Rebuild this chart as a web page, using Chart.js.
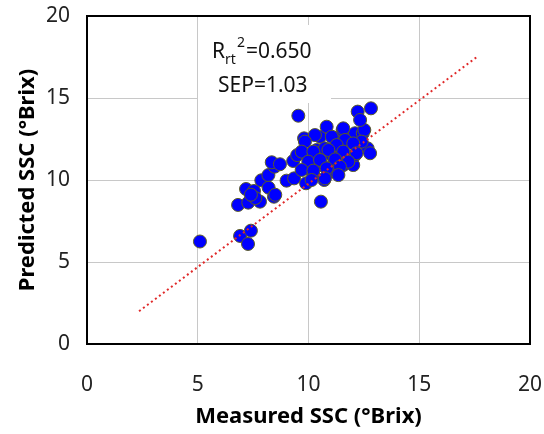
<!DOCTYPE html>
<html>
<head>
<meta charset="utf-8">
<script src="https://cdn.jsdelivr.net/npm/chart.js@4/dist/chart.umd.min.js"></script>
<style>
  html, body { margin: 0; padding: 0; background: #fff; }
  #wrap { width: 544px; height: 434px; }
</style>
</head>
<body>
<div id="wrap"><canvas id="c" width="544" height="434"></canvas></div>
<script>
// Measured vs predicted SSC
const measured = [
  5.1, 6.91, 7.40, 7.27, 6.82, 7.28, 7.18, 7.54, 7.81, 7.87,
  8.19, 8.20, 8.44, 8.47, 8.34, 8.71, 9.01, 9.35, 9.31, 9.49,
  9.54, 9.80, 9.92, 9.89, 10.22, 9.99, 10.56, 10.71, 10.52, 10.82,
  10.37, 10.74, 10.22, 10.60, 11.05, 11.17, 11.12, 11.57, 11.27, 11.54,
  11.80, 12.02, 12.10, 12.10, 12.45, 12.52, 12.67, 12.78, 12.22, 12.82,
  12.33, 12.40, 11.57, 10.29, 9.84, 11.05, 11.65, 11.27, 12.02, 9.69,
  10.22, 10.90, 11.57, 12.17, 9.99, 10.52, 11.20, 11.80, 9.69, 10.22,
  10.82, 11.42, 10.14, 10.74, 11.35, 7.6, 8.5, 7.4
];
const predicted = [
  6.25, 6.59, 6.91, 6.10, 8.48, 8.62, 9.45, 9.33, 8.68, 9.98,
  10.30, 9.53, 8.98, 10.81, 11.08, 10.96, 9.96, 10.10, 11.16, 11.52,
  13.92, 12.54, 10.71, 9.80, 10.30, 11.42, 8.68, 10.00, 12.64, 13.25,
  11.83, 11.93, 11.12, 10.91, 11.52, 11.18, 10.51, 10.91, 12.44, 13.05,
  12.54, 10.91, 11.52, 12.85, 12.85, 13.05, 11.93, 11.63, 14.17, 14.37,
  13.66, 12.34, 13.15, 12.74, 12.34, 12.64, 12.44, 12.13, 12.23, 11.73,
  11.73, 11.83, 11.73, 11.63, 11.12, 11.22, 11.26, 11.12, 10.61, 10.57,
  10.71, 10.81, 10.00, 10.10, 10.30, 8.9, 9.1, 9.1
];
// dotted reference line
const refLineX = [2.35, 17.6];
const refLineY = [2.0, 17.5];
const axisTicks = [0, 5, 10, 15, 20];

const fontFamily = '"Noto Sans", "Open Sans", sans-serif';

const scatterPts = measured.map((x, i) => ({ x: x, y: predicted[i] }));
const linePts = refLineX.map((x, i) => ({ x: x, y: refLineY[i] }));

// no extra room for overhanging tick labels, layout padding does it
function noPad(s) {
  s.paddingLeft = 0; s.paddingRight = 0; s.paddingTop = 0; s.paddingBottom = 0;
}

// plot frame + stats text box
const framePlugin = {
  id: 'frame',
  beforeDatasetsDraw(chart) {
    const ctx = chart.ctx;
    ctx.save();
    ctx.fillStyle = '#fff';
    ctx.fillRect(198, 25, 133, 78);
    ctx.fillStyle = '#111';
    ctx.textBaseline = 'alphabetic';
    const big = '21px ' + fontFamily;
    const small = '14px ' + fontFamily;
    let x = 212;
    ctx.font = big;
    ctx.fillText('R', x, 58);
    x += ctx.measureText('R').width;
    ctx.font = small;
    ctx.fillText('rt', x, 64);
    ctx.fillText('2', x + ctx.measureText('rt').width + 1, 47);
    x += ctx.measureText('rt').width + ctx.measureText('2').width + 2;
    ctx.font = big;
    ctx.fillText('=0.650', x, 58);
    ctx.fillText('SEP=1.03', 218, 92);
    ctx.restore();
  },
  afterDraw(chart) {
    const a = chart.chartArea;
    const ctx = chart.ctx;
    ctx.save();
    ctx.strokeStyle = '#000';
    ctx.lineWidth = 2;
    ctx.strokeRect(a.left, a.top, a.right - a.left, a.bottom - a.top);
    ctx.restore();
  }
};

new Chart(document.getElementById('c'), {
  type: 'scatter',
  data: {
    datasets: [
      {
        type: 'line',
        data: linePts,
        borderColor: '#e02a2a',
        borderWidth: 2,
        borderDash: [2, 3],
        pointRadius: 0,
        fill: false,
        order: 0
      },
      {
        data: scatterPts,
        backgroundColor: '#0000ff',
        borderColor: '#5c5c26',
        borderWidth: 1,
        pointRadius: 6.5,
        order: 1
      }
    ]
  },
  options: {
    responsive: false,
    animation: false,
    layout: { padding: { left: 0, top: 16, right: 14, bottom: 0 } },
    plugins: { legend: { display: false }, tooltip: { enabled: false } },
    scales: {
      x: {
        type: 'linear',
        min: 0, max: 20,
        afterBuildTicks: s => { s.ticks = axisTicks.map(v => ({ value: v })); },
        afterFit: s => { s.height = 90; noPad(s); },
        grid: { color: '#c8c8c8', lineWidth: 1, drawTicks: false },
        border: { display: false },
        ticks: { padding: 28, color: '#222', font: { size: 21, family: fontFamily } },
        title: {
          display: true,
          text: 'Measured SSC (°Brix)',
          color: '#000',
          font: { size: 22, weight: 'bold', family: fontFamily },
          padding: { top: 0, bottom: 4 }
        }
      },
      y: {
        type: 'linear',
        min: 0, max: 20,
        afterBuildTicks: s => { s.ticks = axisTicks.map(v => ({ value: v })); },
        afterFit: s => { s.width = 87; noPad(s); },
        grid: { color: '#c8c8c8', lineWidth: 1, drawTicks: false },
        border: { display: false },
        ticks: { padding: 17, color: '#222', font: { size: 21, family: fontFamily } },
        title: {
          display: true,
          text: 'Predicted SSC (°Brix)',
          color: '#000',
          font: { size: 22, weight: 'bold', family: fontFamily },
          padding: { top: 15, bottom: 0 }
        }
      }
    }
  },
  plugins: [framePlugin]
});
</script>
</body>
</html>
